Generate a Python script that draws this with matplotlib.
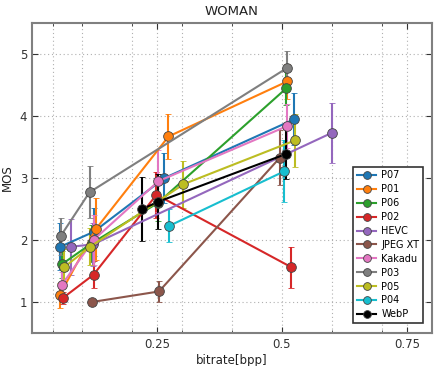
import matplotlib
matplotlib.use("Agg")
import matplotlib.pyplot as plt

# Codec results: bitrate [bpp], mean opinion score and its error
codecs = ["P07", "P01", "P06", "P02", "HEVC", "JPEG XT", "Kakadu", "P03", "P05", "P04", "WebP"]
colors = ["#1f77b4", "#ff7f0e", "#2ca02c", "#d62728", "#9467bd", "#8c564b",
          "#e377c2", "#7f7f7f", "#bcbd22", "#17becf", "#000000"]

p07_rate = [0.056, 0.123, 0.265, 0.525]
p07_mos = [1.89, 2.13, 3.00, 3.95]
p07_err = [0.38, 0.39, 0.40, 0.42]

p01_rate = [0.055, 0.127, 0.273, 0.511]
p01_mos = [1.11, 2.17, 3.67, 4.56]
p01_err = [0.20, 0.50, 0.37, 0.28]

p06_rate = [0.060, 0.120, 0.252, 0.509]
p06_mos = [1.61, 1.95, 2.60, 4.45]
p06_err = [0.22, 0.30, 0.30, 0.28]

p02_rate = [0.061, 0.123, 0.249, 0.519]
p02_mos = [1.06, 1.44, 2.73, 1.56]
p02_err = [0.10, 0.22, 0.37, 0.33]

hevc_rate = [0.077, 0.122, 0.600]
hevc_mos = [1.89, 1.93, 3.73]
hevc_err = [0.45, 0.35, 0.48]

jpegxt_rate = [0.120, 0.254, 0.496]
jpegxt_mos = [1.00, 1.17, 3.33]
jpegxt_err = [0.05, 0.17, 0.45]

kakadu_rate = [0.060, 0.123, 0.253, 0.511]
kakadu_mos = [1.28, 2.00, 2.95, 3.84]
kakadu_err = [0.20, 0.40, 0.50, 0.35]

p03_rate = [0.057, 0.115, 0.511]
p03_mos = [2.06, 2.77, 4.78]
p03_err = [0.30, 0.42, 0.27]

p05_rate = [0.064, 0.116, 0.303, 0.527]
p05_mos = [1.56, 1.89, 2.90, 3.61]
p05_err = [0.30, 0.30, 0.38, 0.43]

p04_rate = [0.275, 0.505]
p04_mos = [2.23, 3.11]
p04_err = [0.27, 0.50]

webp_rate = [0.221, 0.253, 0.509]
webp_mos = [2.50, 2.62, 3.39]
webp_err = [0.51, 0.45, 0.40]

series = [
    (p07_rate, p07_mos, p07_err),
    (p01_rate, p01_mos, p01_err),
    (p06_rate, p06_mos, p06_err),
    (p02_rate, p02_mos, p02_err),
    (hevc_rate, hevc_mos, hevc_err),
    (jpegxt_rate, jpegxt_mos, jpegxt_err),
    (kakadu_rate, kakadu_mos, kakadu_err),
    (p03_rate, p03_mos, p03_err),
    (p05_rate, p05_mos, p05_err),
    (p04_rate, p04_mos, p04_err),
    (webp_rate, webp_mos, webp_err),
]

x_major = [0.25, 0.5, 0.75]
x_minor = [0.0417, 0.1, 0.2, 0.3, 0.4, 0.6, 0.7]
y_ticks = [1, 2, 3, 4, 5]

fig = plt.figure(figsize=(4.35, 3.66), dpi=100)
ax = fig.add_axes([0.0736, 0.0902, 0.9194, 0.8468])

line_handles = []
for name, color, (rate, mos, err) in zip(codecs, colors, series):
    cont = ax.errorbar(rate, mos, yerr=err, color=color, lw=1.5, elinewidth=1.5,
                       capsize=2, capthick=1, marker="o", markersize=7,
                       markeredgecolor="#444444", markeredgewidth=0.6, label=name)
    line_handles.append(cont[0])

ax.set_xlim(0, 0.8)
ax.set_ylim(0.5, 5.5)
ax.set_xticks(x_major)
ax.set_xticklabels(["0.25", "0.5", "0.75"])
ax.set_xticks(x_minor, minor=True)
ax.set_yticks(y_ticks)
ax.tick_params(which="both", direction="in", top=True, right=True,
               labelsize=8.5, colors="#333333")
ax.tick_params(which="major", length=4)
ax.tick_params(which="minor", length=2)
ax.grid(True, which="both", linestyle=(0, (1, 2.5)), color="#b0b0b0", lw=0.8)
ax.set_axisbelow(True)

for sp in ax.spines.values():
    sp.set_color("#808080")
    sp.set_linewidth(1.5)

ax.set_title("WOMAN", fontsize=9.5, color="#222222")
ax.set_xlabel("bitrate[bpp]", fontsize=8.5, color="#222222", labelpad=2)
ax.set_ylabel("MOS", fontsize=8.5, color="#222222", labelpad=4)

leg = ax.legend(line_handles, codecs, loc="lower right", fontsize=7,
                fancybox=False, framealpha=1, edgecolor="#333333",
                borderpad=0.4, labelspacing=0.4, handlelength=2.0,
                handletextpad=0.5, numpoints=1, markerscale=0.8,
                bbox_to_anchor=(0.99, 0.016))
leg.get_frame().set_linewidth(1.2)

fig.savefig("out.png", dpi=100)
